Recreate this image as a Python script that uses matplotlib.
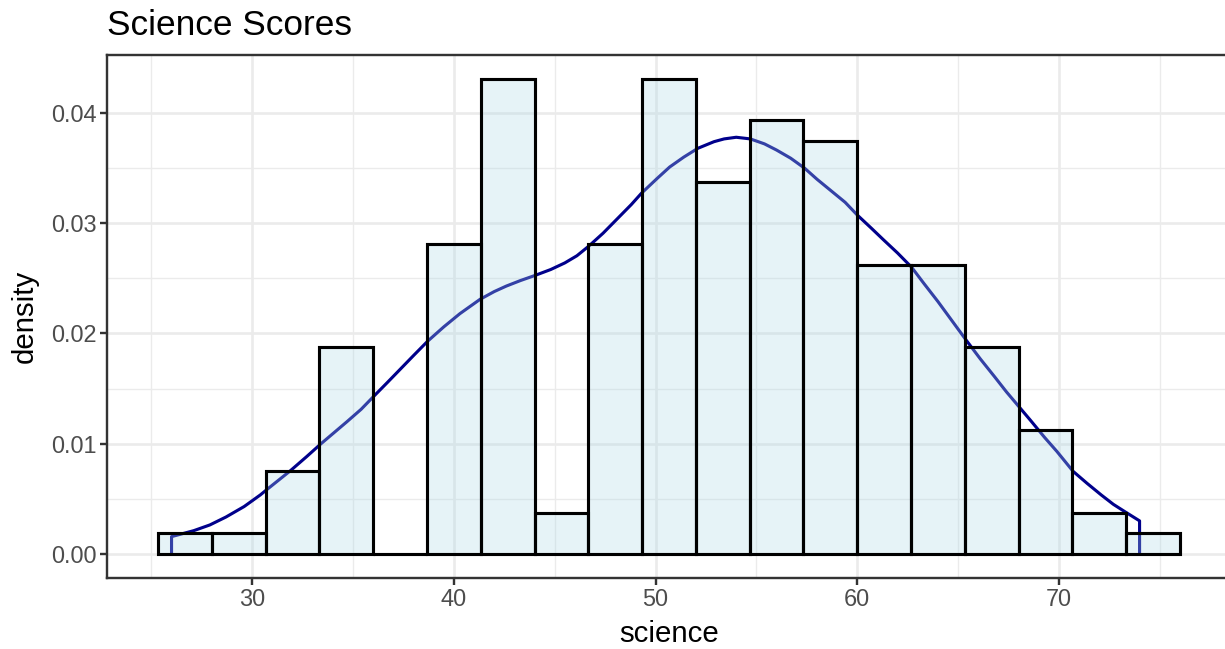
import matplotlib
matplotlib.use("Agg")
import matplotlib.pyplot as plt
import numpy as np

plt.rcParams['font.family'] = ['Liberation Sans', 'DejaVu Sans']

# histogram of science scores (200 students), 19 bins
bin_start = 25.333
bin_width = 2.6667
counts = [1, 1, 4, 10, 0, 15, 23, 2, 15, 23, 18, 21, 20, 14, 14, 10, 6, 2, 1]
n_total = 200

# kernel density estimate
dens_x = [26.0, 27.1, 27.9, 28.7, 29.6, 30.4, 30.7, 31.9, 32.7, 33.4, 34.7, 35.4,
          36.0, 36.7, 37.3, 38.0, 38.7, 39.5, 40.3, 41.3, 42.0, 42.6, 43.3, 44.0,
          44.8, 45.5, 46.1, 46.7, 47.4, 48.1, 48.8, 49.3, 50.1, 50.7, 51.4, 52.1,
          52.9, 53.4, 54.0, 54.7, 55.4, 56.0, 56.7, 57.4, 58.0, 58.7, 59.4, 60.0,
          60.7, 61.3, 62.0, 62.7, 63.3, 64.0, 64.8, 65.4, 66.1, 66.8, 67.4, 68.0,
          68.6, 69.3, 69.9, 70.7, 71.4, 72.1, 72.7, 73.3, 74.0]
dens_y = [0.00157, 0.00211, 0.00263, 0.00335, 0.0043, 0.00535, 0.0058, 0.00756,
          0.00883, 0.00998, 0.0120, 0.01312, 0.01425, 0.01555, 0.01668, 0.0180,
          0.0193, 0.0206, 0.0218, 0.0231, 0.0238, 0.0243, 0.0248, 0.02525,
          0.0258, 0.0264, 0.02705, 0.02794, 0.0291, 0.0304, 0.0317, 0.03272,
          0.0341, 0.0351, 0.0360, 0.0368, 0.0374, 0.03765, 0.0378, 0.03765,
          0.0372, 0.03664, 0.0359, 0.03498, 0.0340, 0.03295, 0.0319, 0.03075,
          0.02955, 0.0285, 0.0273, 0.0260, 0.02455, 0.0229, 0.0209, 0.0194,
          0.0177, 0.0161, 0.0147, 0.0134, 0.0121, 0.01055, 0.0093, 0.0075,
          0.0064, 0.00535, 0.0045, 0.0038, 0.0030]

x_major = [30, 40, 50, 60, 70]
y_major = [0.00, 0.01, 0.02, 0.03, 0.04]

lefts = bin_start + bin_width * np.arange(len(counts))
heights = np.array(counts) / (n_total * bin_width)

fig = plt.figure(figsize=(1225 / 144, 649 / 144), dpi=144)
ax = fig.add_axes([107 / 1225, 71.3 / 649, 1124 / 1225, 522.9 / 649])

lw = 1.55
scale = 4 / 3

ax.set_axisbelow(True)
ax.grid(True, which='major', color='#EBEBEB', linewidth=1.3)
ax.grid(True, which='minor', color='#EBEBEB', linewidth=0.7)

# density outline (drawn first, then the translucent bars go over it)
ax.plot([dens_x[0]] + dens_x + [dens_x[-1]], [0] + dens_y + [0],
        color='darkblue', linewidth=lw, zorder=2,
        solid_joinstyle='round', solid_capstyle='butt')

ax.bar(lefts, heights, width=bin_width, align='edge',
       facecolor=(173 / 255, 216 / 255, 230 / 255, 0.3),
       edgecolor='black', linewidth=lw, zorder=3)

xlo = bin_start
xhi = bin_start + bin_width * len(counts)
pad = 0.05 * (xhi - xlo)
ax.set_xlim(xlo - pad, xhi + pad)
ymax = heights.max()
ax.set_ylim(-0.05 * ymax, ymax * 1.05)

ax.set_xticks(x_major)
ax.set_xticks([25, 35, 45, 55, 65, 75], minor=True)
ax.set_yticks(y_major)
ax.set_yticks([0.005, 0.015, 0.025, 0.035], minor=True)
ax.set_yticklabels([f'{v:.2f}' for v in y_major])

ax.tick_params(which='major', length=3.5, width=1.2, color='#333333',
               labelcolor='#4D4D4D', labelsize=8.8 * scale, pad=1.8)
ax.tick_params(which='minor', length=0)

for sp in ax.spines.values():
    sp.set_color('#333333')
    sp.set_linewidth(1.2)
    sp.set_zorder(5)

ax.set_xlabel('science', fontsize=11 * scale, color='black', labelpad=4.5)
ax.set_ylabel('density', fontsize=11 * scale, color='black', labelpad=6.0)
ax.set_title('Science Scores', fontsize=13.2 * scale, color='black', loc='left', pad=10)

fig.savefig('out.png', dpi=144)
